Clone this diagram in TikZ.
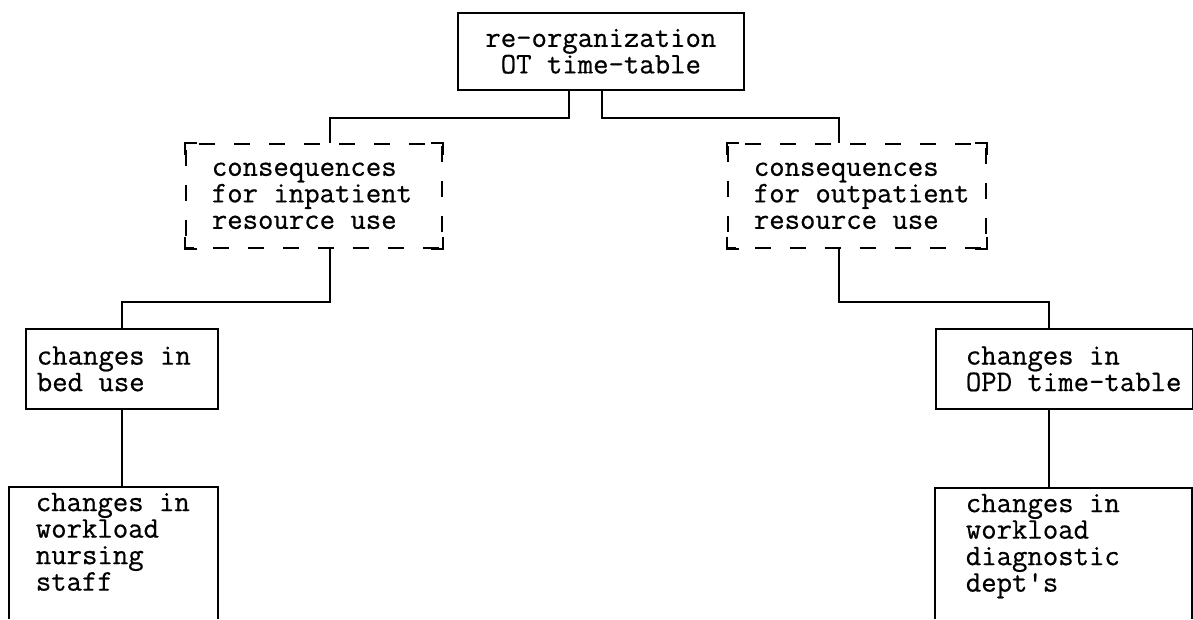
\documentclass[tikz,border=0pt]{standalone}
\usepackage{fontspec}
\newfontfamily\courfont{Latin Modern Mono}[FakeBold=0.6]
\usetikzlibrary{calc,positioning}

\begin{document}
\begin{tikzpicture}[x=1pt,y=-1pt,line width=1.7pt,
		box/.style={draw,anchor=north west,inner sep=0pt},
		dbox/.style={box,dash pattern=on 16pt off 19pt,dash phase=8pt},
		txt/.style={font=\courfont\fontsize{29.9}{26.5}\selectfont,align=left,inner sep=0pt}]
			\def \tick {12}
			\def \rise {27}
			\def \drop {53}
			\useasboundingbox (0,0) rectangle (1193,619);
			
			%top box
			\node[box,txt,align=center,minimum width=286pt,minimum height=77pt] (reorg) at (457,12) {re-organization\\OT time-table};
			
			%dashed boxes
			\node[dbox,minimum width=256pt,minimum height=104pt] (inpat) at (185,143) {};
			\node[dbox,minimum width=258pt,minimum height=104pt] (outpat) at (727,143) {};
			\foreach \n in {inpat,outpat}{
				\draw ($(\n.north west)+(0,\tick)$) -- (\n.north west) -- ++(\tick,0);
				\draw ($(\n.north east)+(0,\tick)$) -- (\n.north east) -- ++(-\tick,0);
				\draw ($(\n.south west)+(0,-\tick)$) -- (\n.south west) -- ++(\tick,0);
				\draw ($(\n.south east)+(0,-\tick)$) -- (\n.south east) -- ++(-\tick,0);
			}
			\node[txt,anchor=west] (inpattxt) at ($(inpat.west)+(26,0)$) {consequences\\for inpatient\\resource use};
			\node[txt,anchor=west] (outpattxt) at ($(outpat.west)+(26,0)$) {consequences\\for outpatient\\resource use};
			
			%middle boxes
			\node[box,minimum width=192pt,minimum height=80pt] (bed) at (25,328) {};
			\node[box,minimum width=257pt,minimum height=80pt] (opd) at (935,328) {};
			\node[txt,anchor=west] (bedtxt) at ($(bed.west)+(11,0)$) {changes in\\bed use};
			\node[txt,anchor=west] (opdtxt) at ($(opd.west)+(30,0)$) {changes in\\OPD time-table};
			
			%open boxes at the bottom
			\coordinate (nurse) at (9,487);
			\coordinate (diag) at (935,488);
			\draw (nurse |- 0,619) -- (nurse) -- ++(209,0) -- ++(0,132);
			\draw (diag |- 0,619) -- (diag) -- ++(257,0) -- ++(0,131);
			\node[txt,anchor=north west] (nursetxt) at ($(nurse)+(26,5)$) {changes in\\workload\\nursing\\staff};
			\node[txt,anchor=north west] (diagtxt) at ($(diag)+(30,5)$) {changes in\\workload\\diagnostic\\dept's};
			
			%connect the boxes
			\coordinate (indrop) at ([xshift=16pt]inpat.south);
			\coordinate (outdrop) at ([xshift=-18pt]outpat.south);
			\coordinate (opddrop) at ([xshift=-15.5pt]opd.south);
			\draw ([xshift=-32pt]reorg.south) -- ++(0,\rise) -| ([xshift=16pt]inpat.north);
			\draw ([xshift=1pt]reorg.south) -- ++(0,\rise) -| ([xshift=-18pt]outpat.north);
			\draw (indrop) -- ++(0,\drop) -| (bed.north);
			\draw (outdrop) -- ++(0,\drop) -| ([xshift=-15.5pt]opd.north);
			\draw (bed.south) -- (bed.south |- nurse);
			\draw (opddrop) -- (opddrop |- diag);
\end{tikzpicture}
\end{document}
